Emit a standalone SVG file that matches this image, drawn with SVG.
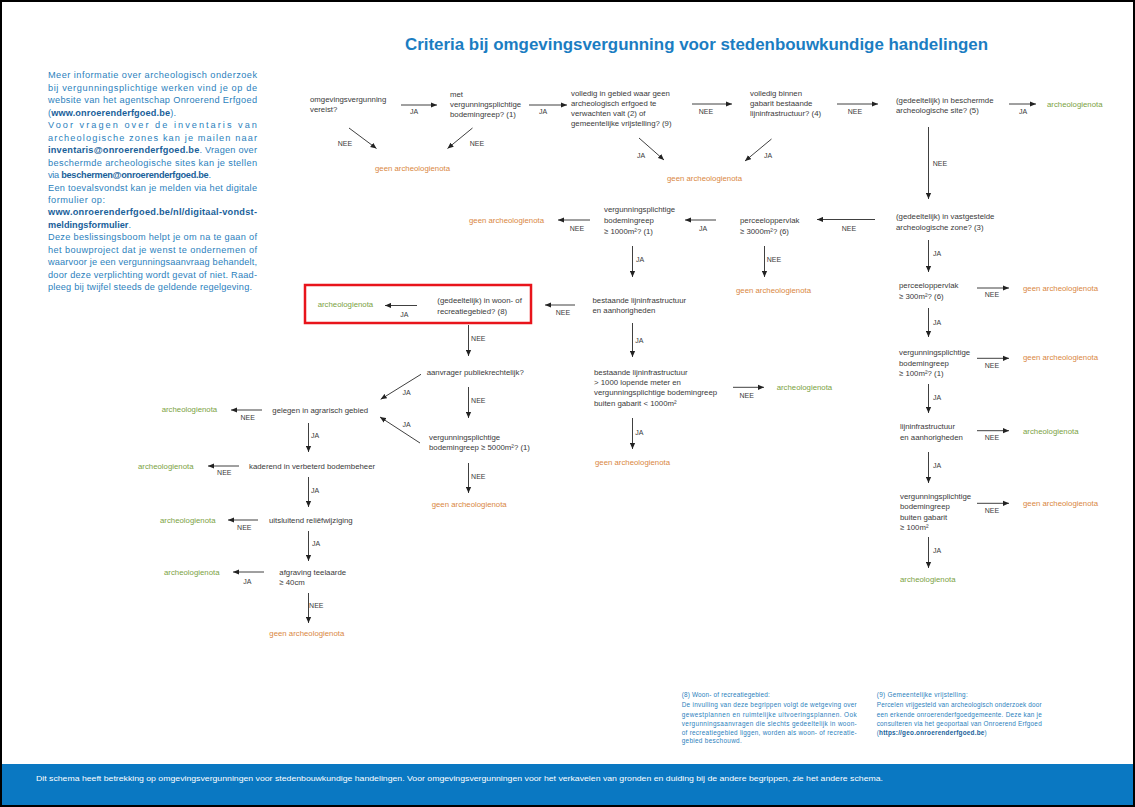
<svg xmlns="http://www.w3.org/2000/svg" width="1135" height="807" viewBox="0 0 1135 807">
<style>
text{font-family:"Liberation Sans",Arial,sans-serif}
.n{font-size:7.8px;fill:#3a3a3a}
.lb{font-size:7px;fill:#3a3a3a;text-anchor:middle}
.gr{font-size:7.8px;fill:#7ba23f}
.or{font-size:7.8px;fill:#d9873f}
.info{font-size:9.2px;fill:#2c7fbd}
.b{font-weight:bold;fill:#1a5f9a}
.fn{font-size:6.4px;fill:#2c7fbd}
.ti{font-size:17px;font-weight:bold;fill:#1b7dc2}
.ar{stroke:#404040;stroke-width:1;fill:none;marker-end:url(#ah)}
.ft{font-size:7.6px;fill:#ffffff}
</style>
<defs>
<marker id="ah" markerUnits="userSpaceOnUse" markerWidth="7" markerHeight="6" refX="6" refY="3" orient="auto"><path d="M0,0.4 L6,3 L0,5.6 z" fill="#222"/></marker>
</defs>
<rect x="0" y="0" width="1135" height="807" fill="#ffffff"/>
<text class="ti" x="405" y="50" textLength="583" lengthAdjust="spacingAndGlyphs">Criteria bij omgevingsvergunning voor stedenbouwkundige handelingen</text>

<g id="info">
<text class="info" x="48" y="78.4" textLength="209" lengthAdjust="spacing">Meer informatie over archeologisch onderzoek</text>
<text class="info" x="48" y="90.9" textLength="209" lengthAdjust="spacing">bij vergunningsplichtige werken vind je op de</text>
<text class="info" x="48" y="103.3" textLength="209" lengthAdjust="spacing">website van het agentschap Onroerend Erfgoed</text>
<text class="info" x="48" y="115.8" textLength="128" lengthAdjust="spacing">(<tspan class="b">www.onroerenderfgoed.be</tspan>).</text>
<text class="info" x="48" y="128.2" textLength="209" lengthAdjust="spacing">Voor vragen over de inventaris van</text>
<text class="info" x="48" y="140.7" textLength="209" lengthAdjust="spacing">archeologische zones kan je mailen naar</text>
<text class="info" x="48" y="153.1" textLength="209" lengthAdjust="spacing"><tspan class="b">inventaris@onroerenderfgoed.be</tspan>. Vragen over</text>
<text class="info" x="48" y="165.6" textLength="209" lengthAdjust="spacing">beschermde archeologische sites kan je stellen</text>
<text class="info" x="48" y="178" textLength="163" lengthAdjust="spacing">via <tspan class="b">beschermen@onroerenderfgoed.be</tspan>.</text>
<text class="info" x="48" y="190.5" textLength="209" lengthAdjust="spacing">Een toevalsvondst kan je melden via het digitale</text>
<text class="info" x="48" y="202.9" textLength="57" lengthAdjust="spacing">formulier op:</text>
<text class="info" x="48" y="215.4" textLength="209" lengthAdjust="spacing"><tspan class="b">www.onroerenderfgoed.be/nl/digitaal-vondst-</tspan></text>
<text class="info" x="48" y="227.8" textLength="83" lengthAdjust="spacing"><tspan class="b">meldingsformulier</tspan>.</text>
<text class="info" x="48" y="240.3" textLength="209" lengthAdjust="spacing">Deze beslissingsboom helpt je om na te gaan of</text>
<text class="info" x="48" y="252.7" textLength="209" lengthAdjust="spacing">het bouwproject dat je wenst te ondernemen of</text>
<text class="info" x="48" y="265.2" textLength="209" lengthAdjust="spacing">waarvoor je een vergunningsaanvraag behandelt,</text>
<text class="info" x="48" y="277.6" textLength="209" lengthAdjust="spacing">door deze verplichting wordt gevat of niet. Raad-</text>
<text class="info" x="48" y="290" textLength="204" lengthAdjust="spacing">pleeg bij twijfel steeds de geldende regelgeving.</text>
</g>

<g id="connectors">
<line class="ar" x1="401" y1="105" x2="437" y2="105"/>
<line class="ar" x1="529" y1="105" x2="567" y2="105"/>
<line class="ar" x1="692" y1="104" x2="732" y2="104"/>
<line class="ar" x1="837" y1="104" x2="878" y2="104"/>
<line class="ar" x1="1009" y1="104" x2="1036" y2="104"/>
<line class="ar" x1="349" y1="128" x2="376.5" y2="148.5"/>
<line class="ar" x1="472.5" y1="128" x2="447.5" y2="148.5"/>
<line class="ar" x1="639" y1="138" x2="664" y2="160"/>
<line class="ar" x1="771.5" y1="139" x2="745" y2="161"/>
<line class="ar" x1="928.5" y1="127" x2="928.5" y2="199"/>
<line class="ar" x1="875" y1="219.5" x2="817" y2="219.5"/>
<line class="ar" x1="716" y1="220" x2="685" y2="220"/>
<line class="ar" x1="590" y1="220" x2="558" y2="220"/>
<line class="ar" x1="632.5" y1="246" x2="632.5" y2="277"/>
<line class="ar" x1="764.5" y1="246" x2="764.5" y2="277"/>
<line class="ar" x1="928.5" y1="240" x2="928.5" y2="272"/>
<line class="ar" x1="977" y1="288" x2="1009" y2="288"/>
<line class="ar" x1="928.5" y1="308" x2="928.5" y2="337"/>
<line class="ar" x1="977" y1="358.3" x2="1009" y2="358.3"/>
<line class="ar" x1="928.5" y1="384" x2="928.5" y2="413"/>
<line class="ar" x1="977" y1="430.7" x2="1009" y2="430.7"/>
<line class="ar" x1="928.5" y1="452" x2="928.5" y2="483"/>
<line class="ar" x1="977" y1="503.3" x2="1009" y2="503.3"/>
<line class="ar" x1="928.5" y1="537" x2="928.5" y2="568"/>
<line class="ar" x1="575" y1="305" x2="545" y2="305"/>
<line class="ar" x1="417" y1="305.5" x2="385" y2="305.5"/>
<line class="ar" x1="468.5" y1="325" x2="468.5" y2="356"/>
<line class="ar" x1="421" y1="374.3" x2="380.7" y2="399.3"/>
<line class="ar" x1="468.5" y1="387" x2="468.5" y2="418"/>
<line class="ar" x1="420" y1="443" x2="380" y2="417"/>
<line class="ar" x1="468.5" y1="463" x2="468.5" y2="493"/>
<line class="ar" x1="632.5" y1="323" x2="632.5" y2="357"/>
<line class="ar" x1="733" y1="387.3" x2="764" y2="387.3"/>
<line class="ar" x1="632.5" y1="418" x2="632.5" y2="449"/>
<line class="ar" x1="262" y1="410" x2="231" y2="410"/>
<line class="ar" x1="308.5" y1="423" x2="308.5" y2="452"/>
<line class="ar" x1="239" y1="466" x2="208" y2="466"/>
<line class="ar" x1="308.5" y1="477" x2="308.5" y2="507"/>
<line class="ar" x1="258" y1="520" x2="228" y2="520"/>
<line class="ar" x1="308.5" y1="531" x2="308.5" y2="561"/>
<line class="ar" x1="264" y1="572" x2="233" y2="572"/>
<line class="ar" x1="308.5" y1="593" x2="308.5" y2="623"/>
<g id="labels">
<text class="lb" x="414" y="113.5">JA</text>
<text class="lb" x="543" y="113.5">JA</text>
<text class="lb" x="706" y="113.5">NEE</text>
<text class="lb" x="855" y="113.5">NEE</text>
<text class="lb" x="1023" y="113.5">JA</text>
<text class="lb" x="345" y="145.8">NEE</text>
<text class="lb" x="477" y="145.8">NEE</text>
<text class="lb" x="641" y="157.5">JA</text>
<text class="lb" x="768" y="157.5">JA</text>
<text class="lb" x="940" y="165.8">NEE</text>
<text class="lb" x="849" y="230.5">NEE</text>
<text class="lb" x="703" y="230.5">JA</text>
<text class="lb" x="577" y="230.5">NEE</text>
<text class="lb" x="640" y="261.5">JA</text>
<text class="lb" x="774" y="261.5">NEE</text>
<text class="lb" x="937" y="255.5">JA</text>
<text class="lb" x="992" y="297">NEE</text>
<text class="lb" x="937" y="324.5">JA</text>
<text class="lb" x="992" y="368.2">NEE</text>
<text class="lb" x="937" y="399.5">JA</text>
<text class="lb" x="992" y="440.2">NEE</text>
<text class="lb" x="937" y="467.5">JA</text>
<text class="lb" x="992" y="512.8">NEE</text>
<text class="lb" x="937" y="552.5">JA</text>
<text class="lb" x="563" y="315.2">NEE</text>
<text class="lb" x="404.3" y="316.5">JA</text>
<text class="lb" x="478.3" y="340.8">NEE</text>
<text class="lb" x="406.7" y="394.8">JA</text>
<text class="lb" x="478.3" y="403.2">NEE</text>
<text class="lb" x="406.7" y="426.5">JA</text>
<text class="lb" x="478.3" y="478.5">NEE</text>
<text class="lb" x="639.3" y="342.5">JA</text>
<text class="lb" x="746.7" y="397.5">NEE</text>
<text class="lb" x="639.3" y="434.5">JA</text>
<text class="lb" x="247.7" y="420.2">NEE</text>
<text class="lb" x="315" y="438.2">JA</text>
<text class="lb" x="224.3" y="475.2">NEE</text>
<text class="lb" x="315" y="492.5">JA</text>
<text class="lb" x="244.3" y="530.2">NEE</text>
<text class="lb" x="316" y="545.8">JA</text>
<text class="lb" x="247.3" y="583.5">JA</text>
<text class="lb" x="316.3" y="607.8">NEE</text>
</g>
</g>

<g id="n1"><text class="n"><tspan x="310" y="102.3">omgevingsvergunning</tspan><tspan x="310" y="112.3">vereist?</tspan></text></g>
<g id="n2"><text class="n"><tspan x="450" y="96.8">met</tspan><tspan x="450" y="106.8">vergunningsplichtige</tspan><tspan x="450" y="116.8">bodemingreep? (1)</tspan></text></g>
<g id="n3"><text class="n"><tspan x="571" y="96.3">volledig in gebied waar geen</tspan><tspan x="571" y="106.3">archeologisch erfgoed te</tspan><tspan x="571" y="116.3">verwachten valt (2) of</tspan><tspan x="571" y="126.3">gemeentelijke vrijstelling? (9)</tspan></text></g>
<g id="n4"><text class="n"><tspan x="750" y="96.3">volledig binnen</tspan><tspan x="750" y="106.3">gabarit bestaande</tspan><tspan x="750" y="116.3">lijninfrastructuur? (4)</tspan></text></g>
<g id="n5"><text class="n"><tspan x="896" y="102.8">(gedeeltelijk) in beschermde</tspan><tspan x="896" y="113.3">archeologische site? (5)</tspan></text></g>
<g id="r1"><text class="gr" x="1047" y="106.8">archeologienota</text></g>
<g id="r2"><text class="or" x="375" y="171.1">geen archeologienota</text></g>
<g id="r3"><text class="or" x="667" y="181.1">geen archeologienota</text></g>

<g id="n6"><text class="n"><tspan x="896" y="218.8">(gedeeltelijk) in vastgestelde</tspan><tspan x="896" y="229.8">archeologische zone? (3)</tspan></text></g>
<g id="n7"><text class="n"><tspan x="740" y="222.8">perceeloppervlak</tspan><tspan x="740" y="234.3">≥ 3000m²? (6)</tspan></text></g>
<g id="n8"><text class="n"><tspan x="604" y="212.3">vergunningsplichtige</tspan><tspan x="604" y="223.1">bodemingreep</tspan><tspan x="604" y="233.9">≥ 1000m²? (1)</tspan></text></g>
<g id="r4"><text class="or" x="469" y="222.8">geen archeologienota</text></g>
<g id="r5"><text class="or" x="736" y="292.8">geen archeologienota</text></g>

<g id="n9"><text class="n"><tspan x="899" y="287.8">perceeloppervlak</tspan><tspan x="899" y="298.8">≥ 300m²? (6)</tspan></text></g>
<g id="r6"><text class="or" x="1023" y="290.8">geen archeologienota</text></g>
<g id="n10"><text class="n"><tspan x="899" y="355.3">vergunningsplichtige</tspan><tspan x="899" y="365.8">bodemingreep</tspan><tspan x="899" y="376.3">≥ 100m²? (1)</tspan></text></g>
<g id="r7"><text class="or" x="1023" y="360.3">geen archeologienota</text></g>
<g id="n11"><text class="n"><tspan x="900" y="428.8">lijninfrastructuur</tspan><tspan x="900" y="439.5">en aanhorigheden</tspan></text></g>
<g id="r8"><text class="gr" x="1023" y="433.5">archeologienota</text></g>
<g id="n12"><text class="n"><tspan x="900" y="498.8">vergunningsplichtige</tspan><tspan x="900" y="509.3">bodemingreep</tspan><tspan x="900" y="519.8">buiten gabarit</tspan><tspan x="900" y="530.3">≥ 100m²</tspan></text></g>
<g id="r9"><text class="or" x="1023" y="505.5">geen archeologienota</text></g>
<g id="r10"><text class="gr" x="900" y="581.5">archeologienota</text></g>

<g id="n13"><text class="n"><tspan x="592.5" y="302.8">bestaande lijninfrastructuur</tspan><tspan x="592.5" y="312.8">en aanhorigheden</tspan></text></g>
<g id="n14"><rect x="305" y="285" width="226" height="38" fill="none" stroke="#e8141b" stroke-width="2.5"/><text class="n"><tspan x="437.3" y="302.8">(gedeeltelijk) in woon- of</tspan><tspan x="437.3" y="313.5">recreatiegebied? (8)</tspan></text></g>
<g id="r11"><text class="gr" x="317.7" y="307.1">archeologienota</text></g>
<g id="n15"><text class="n" x="426.7" y="374.5">aanvrager publiekrechtelijk?</text></g>
<g id="n16"><text class="n"><tspan x="429" y="439.8">vergunningsplichtige</tspan><tspan x="429" y="450.3">bodemingreep ≥ 5000m²? (1)</tspan></text></g>
<g id="r12"><text class="or" x="431.7" y="507.1">geen archeologienota</text></g>
<g id="n17"><text class="n"><tspan x="594" y="374.8">bestaande lijninfrastructuur</tspan><tspan x="594" y="385.1">&gt; 1000 lopende meter en</tspan><tspan x="594" y="395.4">vergunningsplichtige bodemingreep</tspan><tspan x="594" y="405.7">buiten gabarit &lt; 1000m²</tspan></text></g>
<g id="r13"><text class="gr" x="776.7" y="390.1">archeologienota</text></g>
<g id="r14"><text class="or" x="595" y="464.5">geen archeologienota</text></g>

<g id="n18"><text class="n" x="272.3" y="412.8">gelegen in agrarisch gebied</text></g>
<g id="r15"><text class="gr" x="161.7" y="412.3">archeologienota</text></g>
<g id="n19"><text class="n" x="249" y="468.5">kaderend in verbeterd bodembeheer</text></g>
<g id="r16"><text class="gr" x="138" y="468.8">archeologienota</text></g>
<g id="n20"><text class="n" x="269" y="522.5">uitsluitend reliëfwijziging</text></g>
<g id="r17"><text class="gr" x="160" y="522.8">archeologienota</text></g>
<g id="n21"><text class="n"><tspan x="279.3" y="574.5">afgraving teelaarde</tspan><tspan x="279.3" y="585.1">≥ 40cm</tspan></text></g>
<g id="r18"><text class="gr" x="164" y="574.8">archeologienota</text></g>
<g id="r19"><text class="or" x="269.3" y="635.5">geen archeologienota</text></g>

<g id="fn8">
<text class="fn" x="681.7" y="697.3" textLength="88" lengthAdjust="spacing">(8) Woon- of recreatiegebied:</text>
<text class="fn" x="681.7" y="706.6" textLength="175" lengthAdjust="spacing">De invulling van deze begrippen volgt de wetgeving over</text>
<text class="fn" x="681.7" y="716.6" textLength="175" lengthAdjust="spacing">gewestplannen en ruimtelijke uitvoeringsplannen. Ook</text>
<text class="fn" x="681.7" y="725.6" textLength="175" lengthAdjust="spacing">vergunningsaanvragen die slechts gedeeltelijk in woon-</text>
<text class="fn" x="681.7" y="734.6" textLength="175" lengthAdjust="spacing">of recreatiegebied liggen, worden als woon- of recreatie-</text>
<text class="fn" x="681.7" y="743.3" textLength="60" lengthAdjust="spacing">gebied beschouwd.</text>
</g>
<g id="fn9">
<text class="fn" x="876.7" y="697.3" textLength="91" lengthAdjust="spacing">(9) Gemeentelijke vrijstelling:</text>
<text class="fn" x="876.7" y="706.6" textLength="165" lengthAdjust="spacing">Percelen vrijgesteld van archeologisch onderzoek door</text>
<text class="fn" x="876.7" y="716.6" textLength="165" lengthAdjust="spacing">een erkende onroerenderfgoedgemeente. Deze kan je</text>
<text class="fn" x="876.7" y="725.6" textLength="165" lengthAdjust="spacing">consulteren via het geoportaal van Onroerend Erfgoed</text>
<text class="fn" x="876.7" y="734.6" textLength="110" lengthAdjust="spacing">(<tspan class="b">https://geo.onroerenderfgoed.be</tspan>)</text>
</g>

<g id="footer">
<rect x="0" y="764" width="1135" height="43" fill="#0a78c2"/>
<text class="ft" x="36" y="781" textLength="847" lengthAdjust="spacingAndGlyphs">Dit schema heeft betrekking op omgevingsvergunningen voor stedenbouwkundige handelingen. Voor omgevingsvergunningen voor het verkavelen van gronden en duiding bij de andere begrippen, zie het andere schema.</text>
</g>
<rect x="1" y="1" width="1133" height="805" fill="none" stroke="#000" stroke-width="2"/>
</svg>
